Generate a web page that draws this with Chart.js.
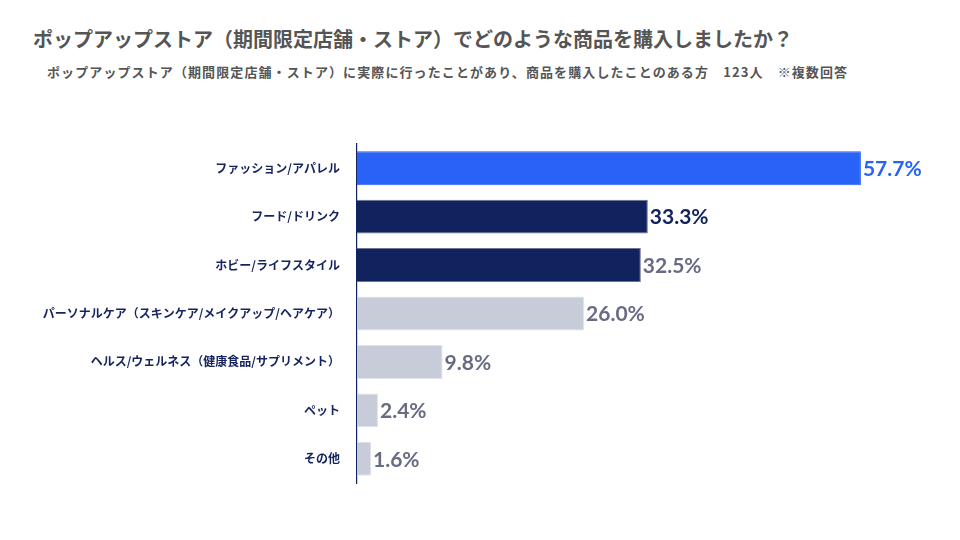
<!DOCTYPE html>
<html><head><meta charset="utf-8">
<script src="https://cdn.jsdelivr.net/npm/chart.js@4.4.0/dist/chart.umd.min.js"></script>
<style>
html,body{margin:0;padding:0;background:#fff;width:960px;height:540px;overflow:hidden;}
#wrap{position:relative;width:960px;height:540px;}
#title{position:absolute;left:33px;top:24px;font:bold 20px "Noto Sans CJK JP",sans-serif;color:#555;letter-spacing:0;white-space:nowrap;}
#sub{position:absolute;left:47px;top:62px;font:bold 13px "Noto Sans CJK JP",sans-serif;color:#555;letter-spacing:1.1px;white-space:nowrap;}
canvas{position:absolute;left:0;top:0;}
</style></head>
<body><div id="wrap">
<div id="title">ポップアップストア（期間限定店舗・ストア）でどのような商品を購入しましたか？</div>
<div id="sub">ポップアップストア（期間限定店舗・ストア）に実際に行ったことがあり、商品を購入したことのある方　123人　※複数回答</div>
<canvas id="c" width="960" height="540"></canvas>
</div>
<script>
const categories = ["ファッション/アパレル","フード/ドリンク","ホビー/ライフスタイル","パーソナルケア（スキンケア/メイクアップ/ヘアケア）","ヘルス/ウェルネス（健康食品/サプリメント）","ペット","その他"];
const values = [57.7,33.3,32.5,26.0,9.8,2.4,1.6];
const barColors = ["#2962f6","#10235f","#10235f","#c8ccd8","#c8ccd8","#c8ccd8","#c8ccd8"];
const borderColors = ["#2962f6","#6c7394","#6c7394","#dfe2ea","#dfe2ea","#dfe2ea","#dfe2ea"];
const labelColors = ["#2962f6","#10235f","#686b84","#686b84","#686b84","#686b84","#686b84"];

const valueLabels = {
  id:'valueLabels',
  afterDatasetsDraw(chart){
    const ctx = chart.ctx;
    const meta = chart.getDatasetMeta(0);
    ctx.save();
    ctx.font = 'bold 21px Lato, sans-serif';
    ctx.textAlign = 'left';
    ctx.textBaseline = 'middle';
    meta.data.forEach((bar,i)=>{
      ctx.fillStyle = labelColors[i];
      ctx.fillText(values[i].toFixed(1)+'%', bar.x+2, bar.y+1);
    });
    ctx.restore();
  }
};

new Chart(document.getElementById('c'),{
  type:'bar',
  data:{labels:categories,datasets:[{data:values,backgroundColor:barColors,borderColor:borderColors,borderWidth:1,borderSkipped:'left',categoryPercentage:1,barPercentage:0.7}]},
  options:{
    indexAxis:'y',
    responsive:false,
    animation:false,
    layout:{padding:{top:144,bottom:57,right:79,left:0}},
    plugins:{legend:{display:false},tooltip:{enabled:false}},
    scales:{
      x:{display:false,min:0,max:60},
      y:{
        grid:{display:false,drawTicks:false},
        border:{display:true,color:'#10235f',width:1.2},
        ticks:{color:'#16235e',font:{family:'"Noto Sans CJK JP", sans-serif',weight:'bold',size:12},padding:17},
        afterFit(scale){scale.width=357;}
      }
    }
  },
  plugins:[valueLabels]
});
</script>
</body></html>
